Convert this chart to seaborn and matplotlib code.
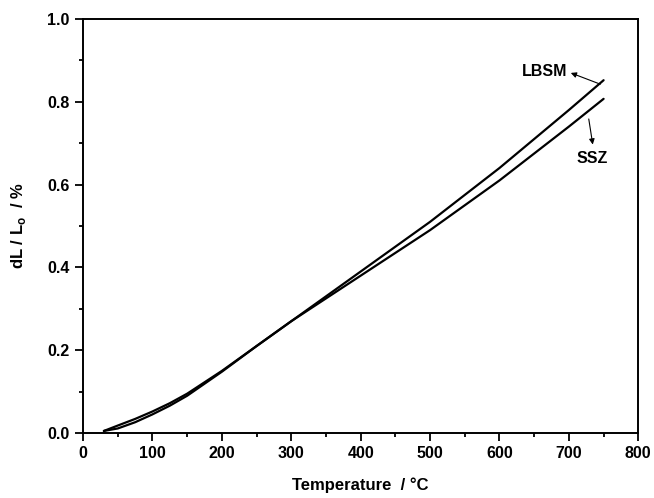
import matplotlib
matplotlib.use("Agg")
import matplotlib.pyplot as plt
import seaborn as sns
import pandas as pd

# data
temperature = [30, 50, 75, 100, 125, 150, 200, 250, 300, 350, 400, 450, 500, 550, 600, 650, 700, 750]
lbsm = [0.005, 0.018, 0.034, 0.052, 0.072, 0.095, 0.15, 0.21, 0.27, 0.33, 0.39, 0.45, 0.51, 0.575, 0.64, 0.71, 0.78, 0.852]
ssz = [0.005, 0.011, 0.026, 0.045, 0.066, 0.09, 0.148, 0.21, 0.27, 0.325, 0.38, 0.435, 0.49, 0.55, 0.61, 0.675, 0.74, 0.807]

df = pd.DataFrame({"T": temperature * 2,
                   "dL": lbsm + ssz,
                   "sample": ["LBSM"] * len(lbsm) + ["SSZ"] * len(ssz)})

sns.set_theme(style="ticks")
plt.rcParams["font.family"] = ["Liberation Sans", "DejaVu Sans"]
plt.rcParams["font.weight"] = "bold"
plt.rcParams["mathtext.fontset"] = "custom"
plt.rcParams["mathtext.rm"] = "Liberation Sans:bold"
plt.rcParams["mathtext.bf"] = "Liberation Sans:bold"
for key in ["text.color", "axes.labelcolor", "xtick.color", "ytick.color", "axes.edgecolor"]:
    plt.rcParams[key] = "black"

fig = plt.figure(figsize=(6.54, 4.98), dpi=100)
ax = fig.add_axes([0.127, 0.1305, 0.849, 0.8315])

sns.lineplot(data=df, x="T", y="dL", units="sample", estimator=None,
             color="black", linewidth=1.6, ax=ax, legend=False)

ax.set_xlim(0, 800)
ax.set_ylim(0, 1.0)
ax.set_xticks(range(0, 801, 100))
ax.set_xticks(range(50, 800, 100), minor=True)
ax.set_yticks([0.0, 0.2, 0.4, 0.6, 0.8, 1.0])
ax.set_yticks([0.1, 0.3, 0.5, 0.7, 0.9], minor=True)
ax.set_yticklabels(["0.0", "0.2", "0.4", "0.6", "0.8", "1.0"])
ax.tick_params(which="major", direction="out", length=6, width=1.3, labelsize=11.5)
ax.tick_params(which="minor", direction="out", length=3, width=1.3)
for s in ax.spines.values():
    s.set_linewidth(1.4)
    s.set_color("black")

ax.set_xlabel("Temperature  / °C", fontsize=12, fontweight="bold", labelpad=12)
ax.set_ylabel("dL / L$_\\mathrm{o}$  / %", fontsize=12, fontweight="bold", labelpad=14)

arrow = dict(arrowstyle="-|>", color="black", lw=0.8, mutation_scale=8)
ax.text(698, 0.873, "LBSM", fontsize=11.5, fontweight="bold", ha="right", va="center")
ax.annotate("", xy=(699, 0.872), xytext=(749, 0.84), arrowprops=arrow)
ax.annotate("", xy=(735, 0.69), xytext=(728, 0.765), arrowprops=arrow)
ax.text(733, 0.662, "SSZ", fontsize=11.5, fontweight="bold", ha="center", va="center")

fig.savefig("out.png", dpi=100)
